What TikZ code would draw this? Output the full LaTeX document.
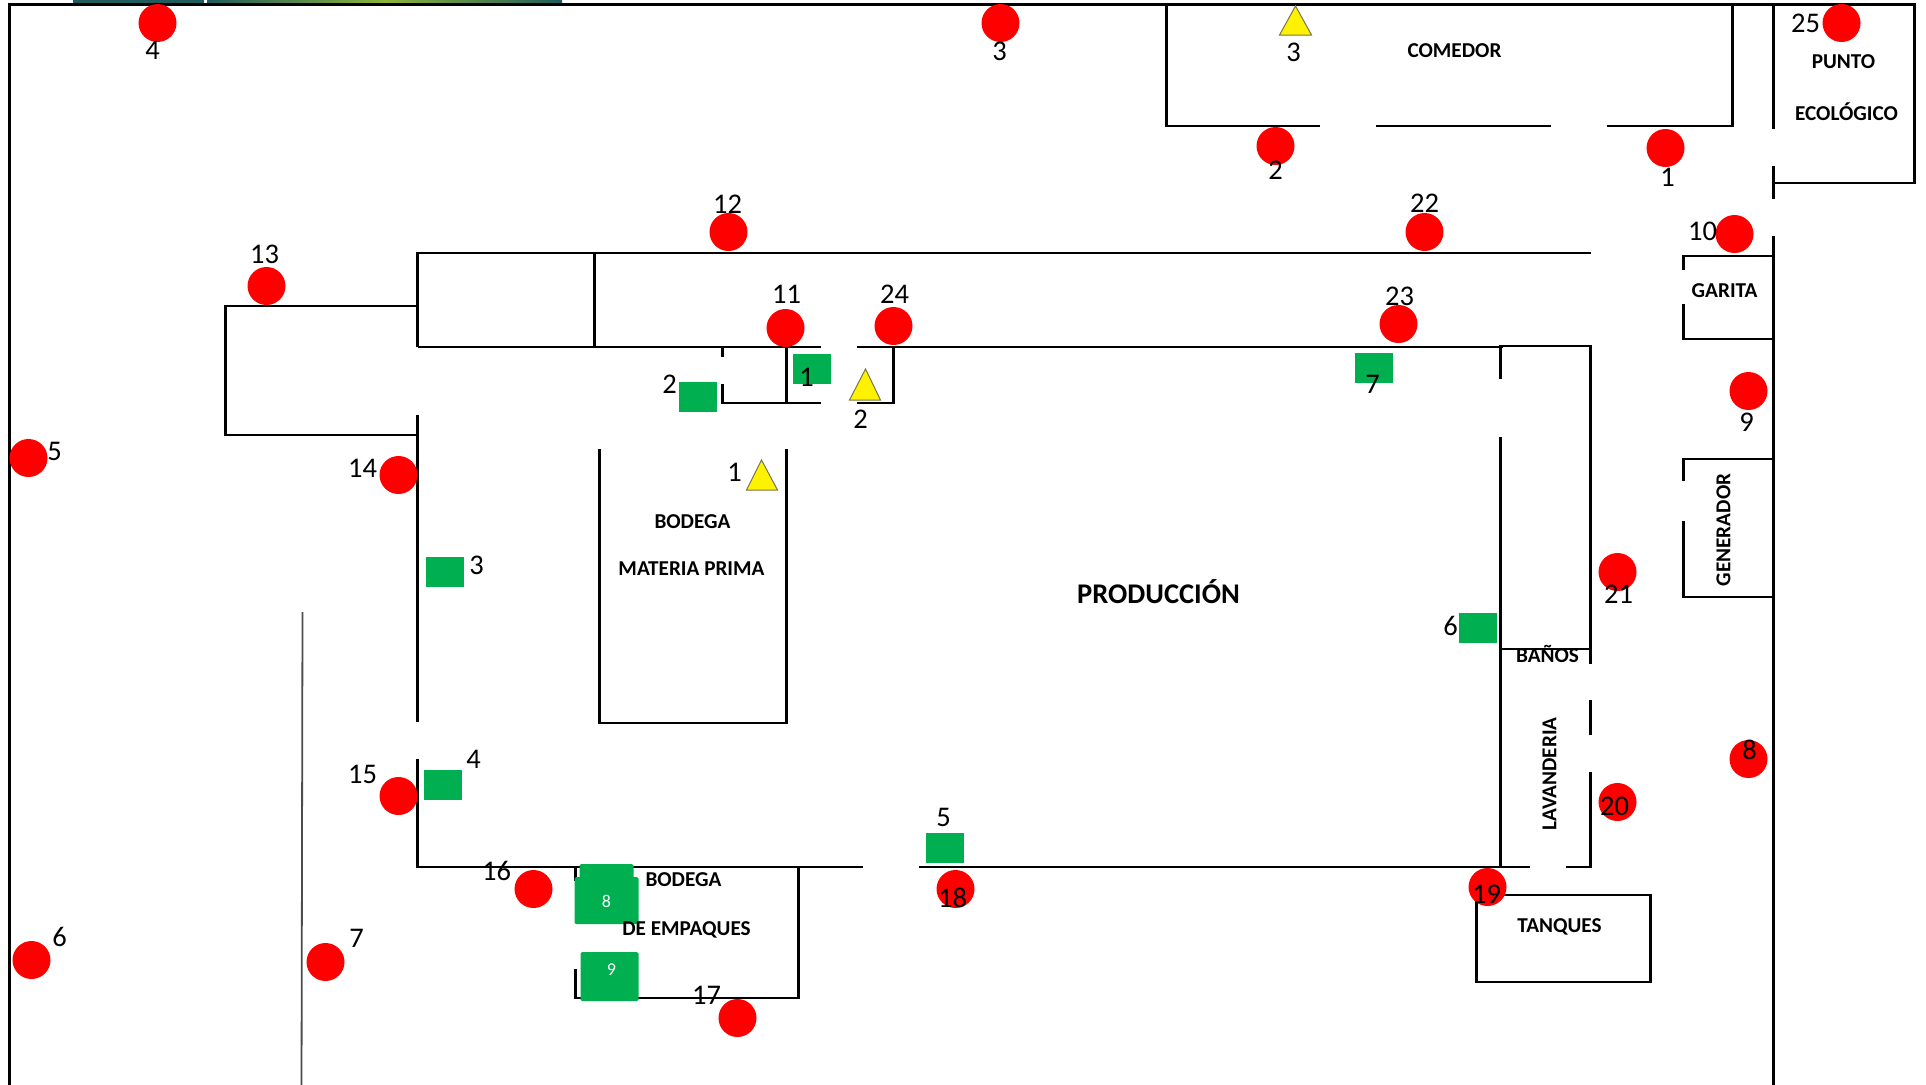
\documentclass[tikz,border=0pt]{standalone}
\usepackage{fontspec}
\setmainfont{Carlito}
\usetikzlibrary{calc}
\definecolor{exitgreen}{HTML}{00B050}
\definecolor{stripteal}{HTML}{1F5C5C}
\definecolor{stripgreen}{HTML}{8DB33A}
\tikzset{
  x=1pt,y=-1pt,
  wall/.style={draw=black,line width=2.9pt,line cap=butt,line join=miter},
  thinwall/.style={draw=black!70,line width=1.8pt},
  reddot/.style={circle,fill=red,draw=none,minimum size=38pt,inner sep=0pt},
  greenbox/.style={rectangle,fill=exitgreen,draw=none,inner sep=0pt,minimum width=38pt,minimum height=30pt},
  greenround/.style={fill=exitgreen,draw=none,rounded corners=1.5pt},
  warntri/.style={fill=yellow,draw=black!60!yellow,line width=1pt,line join=miter},
  num/.style={inner sep=0pt,font=\fontsize{28.5}{31}\selectfont,text=black},
  whitenum/.style={inner sep=0pt,font=\fontsize{18}{20}\selectfont,text=white},
  roomlabel/.style={inner sep=0pt,font=\fontsize{21.2}{24}\selectfont\bfseries,text=black},
  biglabel/.style={inner sep=0pt,font=\fontsize{28.5}{31}\selectfont\bfseries,text=black}
}
\begin{document}
\begin{tikzpicture}
\useasboundingbox (0,0) rectangle (1926,1084);
% strip at the top edge
\shade[left color=stripteal,right color=stripteal,middle color=stripteal] (73,0) rectangle (204,3);
\shade[left color=stripteal,right color=stripteal,middle color=stripgreen] (207,0) rectangle (562,3);
\begin{scope}[shift={(0.5,1)}]
% outer walls
\draw[wall] (9,1090) -- (9,3.5) -- (1914,3.5) -- (1914,182) -- (1773,182);
\draw[wall] (1773,3.5) -- (1773,128);
\draw[wall] (1773,165) -- (1773,198);
\draw[wall] (1773,235) -- (1773,1090);
% comedor
\draw[wall] (1166,3.5) -- (1166,125) -- (1319,125);
\draw[wall] (1375,125) -- (1550,125);
\draw[wall] (1606,125) -- (1732,125) -- (1732,3.5);
% garita
\draw[wall] (1683,269) -- (1683,255) -- (1773,255);
\draw[wall] (1683,303) -- (1683,338) -- (1773,338);
% generador
\draw[wall] (1683,480) -- (1683,458) -- (1773,458);
\draw[wall] (1683,520) -- (1683,596) -- (1773,596);
% main building
\draw[wall] (417,346) -- (417,252) -- (1590,252);
\draw[wall] (594,252) -- (594,346);
\draw[wall] (417,305) -- (225,305) -- (225,434) -- (417,434);
\draw[wall] (417,346) -- (820,346);
\draw[wall] (856,346) -- (1502,346);
\draw[wall] (417,414) -- (417,721);
\draw[wall] (417,758) -- (417,866) -- (862,866);
\draw[wall] (918,866) -- (1529,866);
\draw[wall] (1565,866) -- (1590,866) -- (1590,771);
\draw[wall] (1590,734) -- (1590,699);
\draw[wall] (1590,663) -- (1590,345) -- (1500,345) -- (1500,378);
\draw[wall] (1500,436) -- (1500,866);
\draw[wall] (1500,648) -- (1590,648);
% small offices
\draw[wall] (722,346) -- (722,356);
\draw[wall] (722,383) -- (722,402) -- (820,402);
\draw[wall] (786,346) -- (786,402);
\draw[wall] (856,402) -- (893,402) -- (893,346);
% bodega materia prima
\draw[wall] (599,448) -- (599,722) -- (786,722) -- (786,448);
% bodega de empaques
\draw[wall] (798,866) -- (798,997) -- (575,997) -- (575,968);
\draw[wall] (575,866) -- (575,880);
% tanques
\draw[wall] (1476,894) rectangle (1650,981);
% thin line
\draw[thinwall] (302,611) -- (301,1090);
% red dots
\foreach \n/\px/\py in {a/157/22,b/1000/22,c/1275/145,d/1665/147,e/1841/22,f/1734/233,g/1748/390,h/1748/758,
  i/28/457,j/31/959,k/325/961,l/728/231,m/266/285,n/398/474,o/398/795,p/533/888,q/737/1017,r/955/888,
  s/1487/886,t/1617/801,u/1617/571,v/1424/231,w/1398/323,x/893/325,y/785/327}
  \node[reddot] (dot\n) at (\px,\py) {};
% green boxes
\foreach \n/\px/\py in {a/811/368,b/697/396,c/444/571,d/442/784,e/944/847,f/1477/627,g/1373/367}
  \node[greenbox] (exit\n) at (\px,\py) {};
\fill[greenround] (579,863) rectangle (633,900);
\fill[greenround] (574,876) rectangle (638,923);
\fill[greenround] (580,951) rectangle (638,1000);
% triangles
\draw[warntri] (746,489) -- (761,459) -- (777,489) -- cycle;
\draw[warntri] (849,399) -- (865,368) -- (880,399) -- cycle;
\draw[warntri] (1279,34) -- (1295,5) -- (1311,34) -- cycle;
% red-dot numbers
\foreach \n/\t/\px/\py in {a/4/152/49,b/3/999/50,c/2/1275/169,d/1/1667/176,e/25/1805/22,f/10/1702/230,
  g/9/1746/421,h/8/1749/749,i/5/54/450,j/6/59/936,k/7/356/937,l/12/727/203,m/13/264/253,n/14/362/467,
  o/15/362/773,p/16/496/870,q/17/706/994,r/18/952/897,s/19/1486/893,t/20/1614/805,u/21/1618/593,
  v/22/1424/202,w/23/1399/295,x/24/894/293,y/11/786/293}
  \node[num] (numd\n) at (\px,\py) {\t};
% green-box numbers
\foreach \n/\t/\px/\py in {a/1/806/376,b/2/669/383,c/3/476/564,d/4/473/758,e/5/943/816,f/6/1450/625,g/7/1372/383}
  \node[num] (nume\n) at (\px,\py) {\t};
\node[whitenum] (num8) at (606,900) {8};
\node[whitenum] (num9) at (611,969) {9};
% triangle numbers
\node[num] (numt1) at (734,471) {1};
\node[num] (numt2) at (860,418) {2};
\node[num] (numt3) at (1293,51) {3};
% room labels
\node[roomlabel] (comedor) at (1454,50) {COMEDOR};
\node[roomlabel] (punto) at (1843,61) {PUNTO};
\node[roomlabel] (ecologico) at (1846,111) {ECOLÓGICO};
\node[roomlabel] (garita) at (1724,290) {GARITA};
\node[roomlabel,rotate=90] (generador) at (1723,529) {GENERADOR};
\node[roomlabel] (banos) at (1547,653) {BAÑOS};
\node[roomlabel,rotate=90] (lavanderia) at (1549,773) {LAVANDERIA};
\node[roomlabel] (tanques) at (1559,926) {TANQUES};
\node[roomlabel] (bodega1) at (692,521) {BODEGA};
\node[roomlabel] (materia) at (691,568) {MATERIA PRIMA};
\node[roomlabel] (bodega2) at (683,879) {BODEGA};
\node[roomlabel] (empaques) at (686,929) {DE EMPAQUES};
\node[biglabel] (produccion) at (1158,591) {PRODUCCIÓN};
\end{scope}
\end{tikzpicture}
\end{document}
